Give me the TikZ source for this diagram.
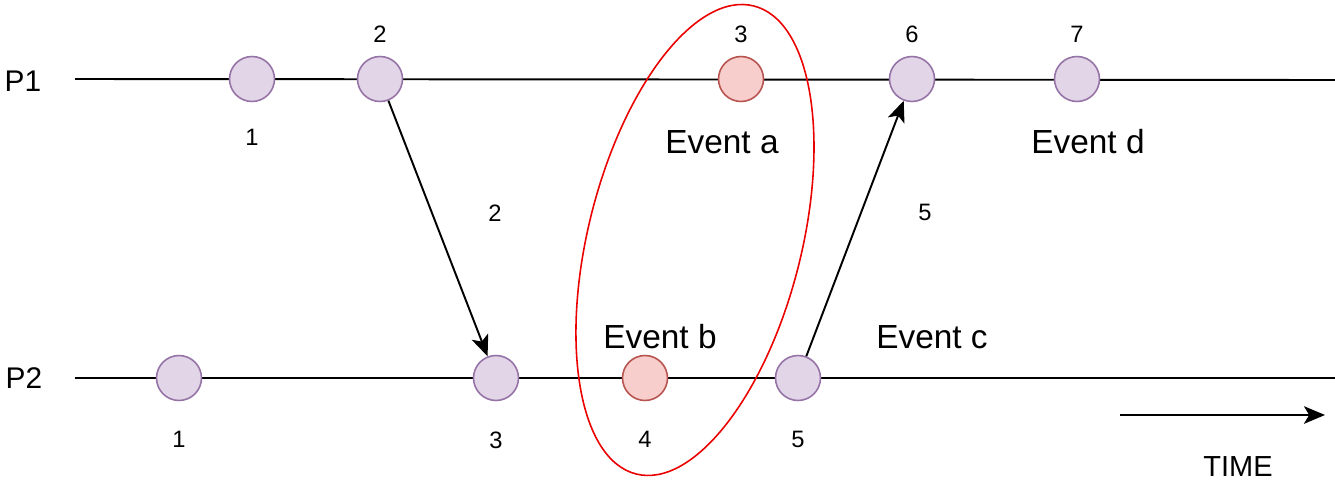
\documentclass[tikz,border=0pt]{standalone}
\usepackage{fontspec}
\setmainfont{Liberation Sans}
\usepackage{tikz}
\usetikzlibrary{arrows.meta,positioning}
\definecolor{evfill}{HTML}{E1D5E7}
\definecolor{evdraw}{HTML}{9673A6}
\definecolor{hitfill}{HTML}{F8CECC}
\definecolor{hitdraw}{HTML}{B85450}
\definecolor{ringred}{RGB}{235,0,0}

\begin{document}
\begin{tikzpicture}[x=0.02cm,y=-0.02cm,
  ev/.style={circle,draw=evdraw,fill=evfill,line width=0.9pt,minimum size=0.9cm,inner sep=0pt},
  hit/.style={ev,draw=hitdraw,fill=hitfill},
  clock/.style={font=\fontsize{13.5}{16}\selectfont},
  tag/.style={font=\fontsize{19}{22}\selectfont},
  proc/.style={font=\fontsize{17}{20}\selectfont},
  tl/.style={line width=1.1pt},
  msg/.style={line width=1.1pt,-{Stealth[length=12pt,width=10pt,inset=3pt]}}]
\useasboundingbox (0,0) rectangle (1335,487);

% process lines
\coordinate (p1s) at (75,79);
\coordinate (p1e) at (1335,80);
\coordinate (p2s) at (75,378);
\coordinate (p2e) at (1335,378);
\draw[tl] (p1s) -- (p1e);
\draw[tl] (p2s) -- (p2e);
\node[proc] (p1) at (23,81) {P1};
\node[proc] (p2) at (24,378) {P2};

% events on P1
\node[ev] (a1) at (252,79) {};
\node[ev] (a2) at (380,79) {};
\node[hit] (a3) at (741,79) {};
\node[ev] (a6) at (912,79) {};
\node[ev] (a7) at (1077,79) {};
\node[clock,below=0.42cm of a1] (a1n) {1};
\node[clock,above=0.14cm of a2] (a2n) {2};
\node[clock,above=0.14cm of a3] (a3n) {3};
\node[clock,above=0.14cm of a6] (a6n) {6};
\node[clock,above=0.14cm of a7] (a7n) {7};

% events on P2
\node[ev] (b1) at (179,378) {};
\node[ev] (b3) at (496,378) {};
\node[hit] (b4) at (645,378) {};
\node[ev] (b5) at (798,378) {};
\node[clock,below=0.48cm of b1] (b1n) {1};
\node[clock,below=0.48cm of b3] (b3n) {3};
\node[clock,below=0.48cm of b4] (b4n) {4};
\node[clock,below=0.48cm of b5] (b5n) {5};

% event names
\node[tag] (ea) at (722,142) {Event a};
\node[tag] (ed) at (1088,142) {Event d};
\node[tag] (eb) at (660,337) {Event b};
\node[tag] (ec) at (932,337) {Event c};

% messages
\draw[msg] (a2) -- (b3);
\draw[msg] (b5) -- (a6);
\node[clock] (m2) at (495,213) {2};
\node[clock] (m5) at (925,212) {5};

% concurrent pair
\coordinate (ring) at (695,240);
\draw[ringred,line width=0.9pt,rotate around={-14.1:(ring)}] (ring) ellipse [x radius=106.7,y radius=241.3];

% time axis
\coordinate (ts) at (1120,415);
\coordinate (te) at (1325,415);
\draw[msg] (ts) -- (te);
\node[proc,font=\fontsize{16.5}{19}\selectfont] (time) at (1238,467) {TIME};
\end{tikzpicture}
\end{document}
